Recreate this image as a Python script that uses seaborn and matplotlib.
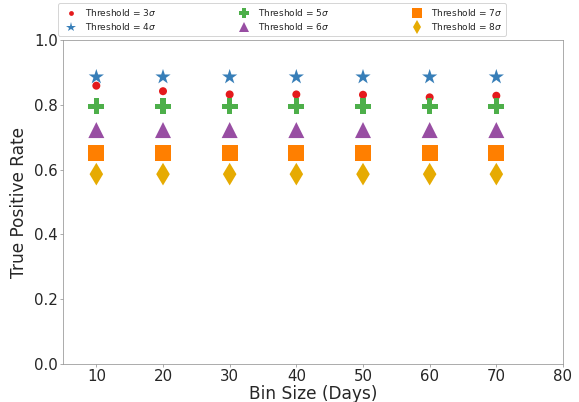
import pandas as pd
import numpy as np
import seaborn as sns
import matplotlib
matplotlib.use("Agg")
import matplotlib.pyplot as plt

# bin sizes in days and true positive rate per threshold
bin_sizes = [10, 20, 30, 40, 50, 60, 70]
tpr_3sigma = [0.859, 0.842, 0.832, 0.832, 0.831, 0.823, 0.828]
tpr_4sigma = [0.886, 0.886, 0.886, 0.886, 0.886, 0.886, 0.886]
tpr_5sigma = [0.795, 0.795, 0.795, 0.795, 0.795, 0.795, 0.795]
tpr_6sigma = [0.722, 0.722, 0.722, 0.722, 0.722, 0.722, 0.722]
tpr_7sigma = [0.650, 0.650, 0.650, 0.650, 0.650, 0.650, 0.650]
tpr_8sigma = [0.586, 0.586, 0.586, 0.586, 0.586, 0.586, 0.586]

labels = [r'Threshold = 3$\sigma$', r'Threshold = 4$\sigma$', r'Threshold = 5$\sigma$',
          r'Threshold = 6$\sigma$', r'Threshold = 7$\sigma$', r'Threshold = 8$\sigma$']
colors = ['#e41a1c', '#377eb8', '#4daf4a', '#984ea3', '#ff7f00', '#e6ab02']
markers = ['.', '*', 'P', '^', 's', 'd']

series = [tpr_3sigma, tpr_4sigma, tpr_5sigma, tpr_6sigma, tpr_7sigma, tpr_8sigma]
df = pd.concat([pd.DataFrame({'Bin Size': bin_sizes, 'TPR': s, 'Threshold': lab})
                for s, lab in zip(series, labels)], ignore_index=True)

sns.set_style("white")
plt.rcParams['font.family'] = ['DejaVu Sans']

fig, ax = plt.subplots(figsize=(579/72, 402/72), dpi=72)
fig.subplots_adjust(left=63/579, right=563/579, bottom=1-364/402, top=1-40/402)

sns.scatterplot(data=df, x='Bin Size', y='TPR', hue='Threshold', style='Threshold',
                palette=dict(zip(labels, colors)), markers=dict(zip(labels, markers)),
                s=256, linewidth=0, ax=ax)

ax.set_xlim(5, 80)
ax.set_ylim(0, 1.0)
ax.set_xticks([10, 20, 30, 40, 50, 60, 70, 80])
ax.set_xlabel('Bin Size (Days)', fontsize=17, labelpad=1)
ax.set_ylabel('True Positive Rate', fontsize=17, labelpad=6)
ax.tick_params(labelsize=15, length=3, pad=2, color='#999999', bottom=True, left=True)
for sp in ax.spines.values():
    sp.set_color('#999999')

ax.legend(loc='lower left', bbox_to_anchor=(-0.012, 1.01, 0.9, 0.1), mode='expand',
          ncol=3, fontsize=9, borderaxespad=0.1, handletextpad=0.6,
          labelspacing=0.4, markerscale=0.6, frameon=True)

fig.savefig('out.png', dpi=72)
